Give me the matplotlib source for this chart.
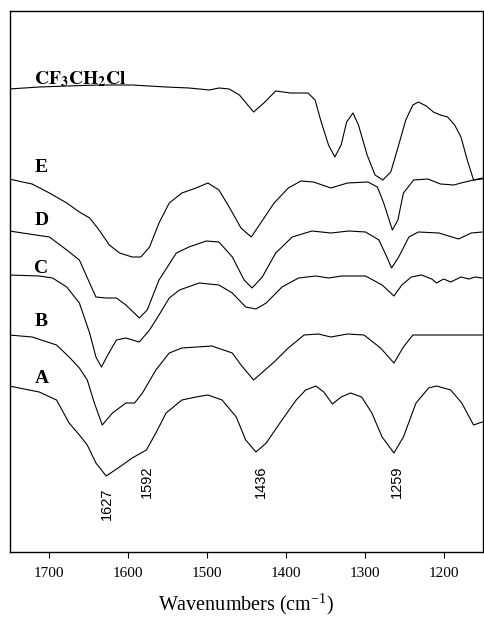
import numpy as np
import matplotlib.pyplot as plt

plt.rcParams['mathtext.fontset'] = 'stix'

# IR spectra, transmittance in arbitrary units (stacked as in the original)
wn_cf3 = [1751, 1732, 1713, 1678, 1637, 1595, 1552, 1523, 1497, 1485, 1472, 1459, 1441, 1428,
          1413, 1394, 1372, 1363, 1356, 1346, 1338, 1330, 1323, 1315, 1308, 1297, 1287, 1277,
          1267, 1257, 1248, 1239, 1232, 1222, 1213, 1204, 1195, 1186, 1178, 1170, 1162, 1151]
t_cf3 = [463, 464, 465, 466, 467, 467, 465, 464, 462, 464, 463, 457, 440, 449,
         461, 459, 459, 452, 432, 407, 395, 407, 430, 439, 427, 397, 377, 372,
         380, 407, 432, 447, 450, 446, 440, 437, 435, 427, 415, 392, 372, 374]

wn_e = [1751, 1734, 1722, 1700, 1678, 1662, 1649, 1637, 1624, 1611, 1595, 1584, 1573, 1561,
        1548, 1532, 1514, 1499, 1485, 1472, 1457, 1444, 1432, 1415, 1397, 1381, 1365, 1343,
        1322, 1296, 1284, 1276, 1265, 1258, 1251, 1238, 1220, 1204, 1187, 1178, 1162, 1151]
t_e = [373, 370, 368, 359, 349, 340, 334, 322, 307, 299, 295, 295, 305, 329,
       349, 359, 364, 369, 362, 345, 324, 315, 329, 349, 364, 371, 370, 364,
       369, 370, 365, 349, 322, 332, 359, 372, 373, 368, 367, 369, 372, 373]

wn_d = [1751, 1700, 1678, 1662, 1649, 1641, 1628, 1615, 1603, 1586, 1576, 1561, 1539, 1523,
        1501, 1485, 1468, 1453, 1443, 1430, 1413, 1392, 1367, 1343, 1320, 1299, 1282, 1272,
        1266, 1257, 1244, 1232, 1206, 1181, 1165, 1151]
t_d = [321, 315, 302, 292, 269, 255, 254, 254, 247, 234, 242, 272, 299, 305,
       311, 310, 295, 272, 264, 275, 299, 315, 321, 319, 321, 320, 312, 295,
       284, 295, 315, 320, 319, 313, 319, 320]

wn_c = [1751, 1713, 1696, 1678, 1662, 1649, 1641, 1634, 1626, 1615, 1603, 1586, 1573, 1561,
        1548, 1535, 1510, 1485, 1468, 1451, 1438, 1425, 1405, 1384, 1362, 1346, 1329, 1299,
        1278, 1263, 1253, 1241, 1228, 1215, 1209, 1200, 1191, 1178, 1168, 1160, 1151]
t_c = [277, 276, 274, 265, 249, 219, 195, 185, 197, 212, 214, 210, 222, 237,
       254, 262, 269, 267, 259, 245, 243, 249, 265, 274, 276, 274, 276, 276,
       267, 256, 267, 275, 277, 273, 269, 273, 270, 275, 273, 275, 274]

wn_b = [1751, 1722, 1691, 1675, 1662, 1652, 1643, 1633, 1620, 1603, 1592, 1582, 1565, 1548,
        1532, 1494, 1468, 1457, 1441, 1415, 1397, 1377, 1359, 1343, 1322, 1301, 1280, 1263,
        1251, 1239, 1204, 1151]
t_b = [217, 215, 207, 195, 184, 172, 149, 127, 139, 149, 149, 159, 182, 199,
       204, 206, 199, 187, 172, 190, 204, 217, 218, 215, 218, 217, 204, 189,
       205, 217, 217, 217]

wn_a = [1751, 1713, 1691, 1675, 1662, 1652, 1641, 1628, 1611, 1595, 1577, 1565, 1552, 1532,
        1514, 1499, 1481, 1463, 1451, 1438, 1425, 1405, 1387, 1375, 1362, 1352, 1341, 1330,
        1318, 1304, 1291, 1278, 1263, 1251, 1235, 1219, 1209, 1191, 1177, 1162, 1151]
t_a = [166, 160, 152, 129, 117, 107, 89, 76, 85, 94, 102, 119, 139, 152,
       155, 157, 152, 135, 112, 100, 109, 132, 152, 162, 166, 160, 148, 155,
       159, 155, 139, 115, 99, 115, 149, 164, 166, 162, 149, 127, 130]

traces = [(wn_cf3, t_cf3), (wn_e, t_e), (wn_d, t_d), (wn_c, t_c), (wn_b, t_b), (wn_a, t_a)]
names = [r'$\mathbf{CF_3CH_2Cl}$', 'E', 'D', 'C', 'B', 'A']
name_y = [468, 380, 327, 279, 226, 169]

peaks = ['1627', '1592', '1436', '1259']
peak_x = [1627, 1577, 1432, 1259]
peak_top = [65, 86, 86, 86]

fig = plt.figure(figsize=(4.84, 6.17), dpi=100)
ax = fig.add_axes([10/484, 65/617, 1 - 10/484 - 0.002, 541/617])

for (w, t) in traces:
    ax.plot(w, t, color='black', lw=0.8, solid_joinstyle='round')

for n, y in zip(names, name_y):
    ax.text(1719, y, n, ha='left', va='baseline', fontsize=14,
            family='Liberation Serif', fontweight='bold')

for p, x, y in zip(peaks, peak_x, peak_top):
    ax.text(x, y, p, rotation=90, ha='center', va='top', fontsize=10.5,
            family='Liberation Sans')

ax.set_xlim(1750, 1150)
ax.set_ylim(0, 541)
ax.set_yticks([])
ax.set_xticks([1700, 1600, 1500, 1400, 1300, 1200])
ax.tick_params(axis='x', direction='out', length=4, width=0.8, pad=7)
for lab in ax.get_xticklabels():
    lab.set_family('Liberation Serif')
    lab.set_fontsize(11)
for s in ax.spines.values():
    s.set_linewidth(1.0)
ax.set_xlabel(r'Wavenumbers (cm$^{\mathregular{-1}}$)', family='Liberation Serif',
              fontsize=14.5, labelpad=8)

fig.savefig('out.png', dpi=100)
